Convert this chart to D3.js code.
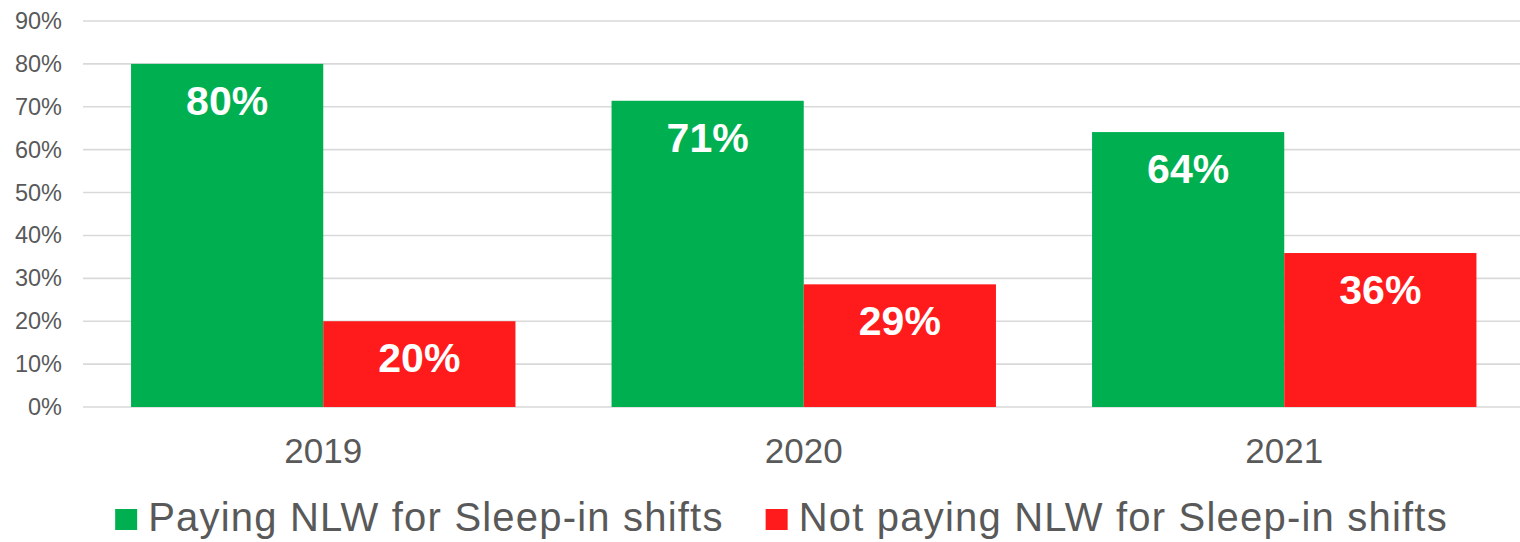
<!DOCTYPE html>
<html>
<head>
<meta charset="utf-8">
<script src="https://cdn.jsdelivr.net/npm/d3@7"></script>
<style>
  html, body { margin: 0; padding: 0; background: #fff; }
  svg { display: block; font-family: "Liberation Sans", Arial, sans-serif; }
</style>
</head>
<body>
<svg id="chart" width="1520" height="542"></svg>
<script>
// Share of providers paying the National Living Wage for sleep-in shifts
const years = ["2019", "2020", "2021"];
const seriesNames = ["Paying NLW for Sleep-in shifts", "Not paying NLW for Sleep-in shifts"];
const paying = [0.80, 0.714, 0.641];
const notPaying = [0.20, 0.286, 0.359];
const yTicks = [0, 0.1, 0.2, 0.3, 0.4, 0.5, 0.6, 0.7, 0.8, 0.9];
const colors = ["#00b050", "#ff1b1b"];

const svg = d3.select("#chart");
const W = 1520;
const plot = { left: 83, right: 1524.5, top: 21, bottom: 407 };

const x = d3.scaleBand().domain(years).range([plot.left, plot.right])
  .paddingInner(0.2).paddingOuter(0.1);
const xs = d3.scaleBand().domain([0, 1]).range([0, x.bandwidth()]);
const y = d3.scaleLinear().domain([0, 0.9]).range([plot.bottom, plot.top]);
const pct = d3.format(".0%");

// Gridlines
svg.append("g").selectAll("line").data(yTicks).join("line")
  .attr("x1", plot.left).attr("x2", W)
  .attr("y1", d => y(d)).attr("y2", d => y(d))
  .attr("stroke", "#d9d9d9").attr("stroke-width", 1.6);

// Y axis labels
const yAxis = d3.axisLeft(y).tickValues(yTicks).tickFormat(pct).tickSize(0).tickPadding(0);
const gy = svg.append("g").attr("transform", `translate(62,0)`).call(yAxis);
gy.select(".domain").remove();
gy.selectAll("text").attr("fill", "#595959").style("font-size", "23.5px")
  .style("font-family", "'Liberation Sans', Arial, sans-serif");

// Bars
const rows = years.map((yr, i) => ({ year: yr, values: [paying[i], notPaying[i]] }));
const groups = svg.append("g").selectAll("g").data(rows).join("g")
  .attr("transform", d => `translate(${x(d.year)},0)`);

groups.selectAll("rect").data(d => d.values.map((v, k) => ({ v, k }))).join("rect")
  .attr("x", d => xs(d.k)).attr("width", xs.bandwidth())
  .attr("y", d => y(d.v)).attr("height", d => y(0) - y(d.v))
  .attr("fill", d => colors[d.k]);

groups.selectAll("text").data(d => d.values.map((v, k) => ({ v, k }))).join("text")
  .attr("x", d => xs(d.k) + xs.bandwidth() / 2)
  .attr("y", d => y(d.v) + 51)
  .attr("text-anchor", "middle")
  .attr("fill", "#fff").style("font-weight", "bold").style("font-size", "41px")
  .text(d => pct(d.v));

// X axis labels
const xAxis = d3.axisBottom(x).tickSize(0).tickPadding(0);
const gx = svg.append("g").call(xAxis);
gx.select(".domain").remove();
gx.selectAll("text").attr("y", 463).attr("dy", null)
  .attr("fill", "#595959").style("font-size", "35px")
  .style("font-family", "'Liberation Sans', Arial, sans-serif");

// Legend
const legend = svg.append("g");
const items = legend.selectAll("g").data(seriesNames).join("g");
items.append("rect").attr("width", 22).attr("height", 21).attr("y", 509)
  .attr("fill", (d, i) => colors[i]);
items.append("text").attr("x", 33).attr("y", 531)
  .attr("fill", "#595959").style("font-size", "40px").style("letter-spacing", "1.2px")
  .text(d => d);

const gapBetween = 42;
let widths = [];
items.each(function () { widths.push(33 + this.querySelector("text").getComputedTextLength()); });
const total = d3.sum(widths) + gapBetween;
let cx = 781.5 - total / 2;
items.each(function (d, i) {
  d3.select(this).attr("transform", `translate(${cx},0)`);
  cx += widths[i] + gapBetween;
});
</script>
</body>
</html>
